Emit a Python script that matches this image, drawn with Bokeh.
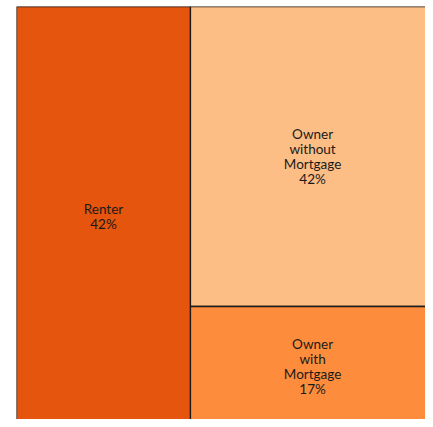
from bokeh.plotting import figure
from bokeh.models import ColumnDataSource, Range1d
from bokeh.core.properties import value
from bokeh.embed import file_html
from bokeh.resources import INLINE

# Data
categories = ["Renter", "Owner without Mortgage", "Owner with Mortgage"]
shares = [41.6, 41.7, 16.7]
colors = ["#e6550d", "#fdbe85", "#fd8d3c"]
label_lines = ["Renter", "Owner\nwithout\nMortgage", "Owner\nwith\nMortgage"]

total = sum(shares)
# slice-and-dice layout: first category takes a full-height column,
# remaining categories stacked vertically in the rest.
rest = total - shares[0]
x0s, x1s, y0s, y1s = [], [], [], []
w0 = shares[0] / total
x0s.append(0.0); x1s.append(w0); y0s.append(0.0); y1s.append(1.0)
ytop = 1.0
for s in shares[1:]:
    h = s / rest
    x0s.append(w0); x1s.append(1.0)
    y1s.append(ytop); y0s.append(ytop - h)
    ytop -= h

labels = [f"{l}\n{round(s / total * 100)}%" for l, s in zip(label_lines, shares)]
src = ColumnDataSource(dict(
    left=x0s, right=x1s, bottom=y0s, top=y1s, color=colors,
    cx=[(a + b) / 2 for a, b in zip(x0s, x1s)],
    cy=[(a + b) / 2 for a, b in zip(y0s, y1s)],
    label=labels,
))

# the treemap runs slightly past the right and bottom edges of the view
p = figure(width=425, height=419, output_backend="svg", toolbar_location=None,
           x_range=Range1d(0, 0.978), y_range=Range1d(0.017, 1),
           min_border_left=16, min_border_right=0, min_border_top=6, min_border_bottom=0)
p.axis.visible = False
p.grid.visible = False
p.outline_line_color = None
p.background_fill_color = "white"
p.border_fill_color = "white"

p.quad(left="left", right="right", bottom="bottom", top="top", source=src,
       fill_color="color", line_color="#1a1a1a", line_width=1.3)
p.text(x="cx", y="cy", text="label", source=src, text_align="center",
       text_baseline="middle", text_font=value("Lato"), text_font_size="13.5px",
       text_color="#1a1a1a", text_line_height=0.95)

open("out.html", "w").write(file_html(p, INLINE))
